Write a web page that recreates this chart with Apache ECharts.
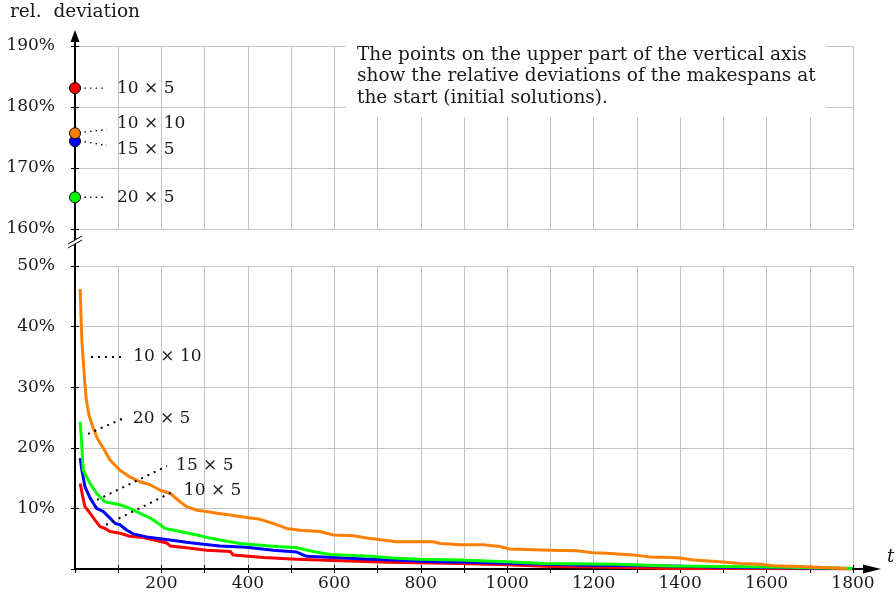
<!DOCTYPE html>
<html>
<head>
<meta charset="utf-8">
<script src="https://cdn.jsdelivr.net/npm/echarts@6/dist/echarts.min.js"></script>
<style>
  html, body { margin: 0; padding: 0; background: #fff; }
  #chart { width: 896px; height: 598px; }
</style>
</head>
<body>
<div id="chart"></div>
<script>
// Problem sizes (jobs x machines) and their colours
const instances = ['10 × 5', '15 × 5', '20 × 5', '10 × 10'];
const instanceColors = ['#ff0000', '#0000ff', '#00ff00', '#ff8000'];

// Relative deviation of the initial solutions (%), same order as instances
const initialDeviation = [183.1, 174.4, 165.2, 175.7];

// Relative deviation over time t: [t, %]
const dev10x5 = [[12,14.1],[18,11.9],[23,10.3],[35,9.2],[46,8.1],[58,7.0],[69,6.7],[81,6.2],[104,5.9],[127,5.4],[158,5.2],[181,4.8],[212,4.3],[220,3.8],[258,3.5],[305,3.1],[359,2.9],[366,2.3],[436,1.9],[513,1.6],[598,1.4],[721,1.1],[891,0.9],[1000,0.7],[1099,0.4],[1250,0.3],[1377,0.1],[1600,0.1],[1800,0.0]];
const dev15x5 = [[12,18.3],[16,16.3],[23,13.6],[35,11.7],[50,10.0],[65,9.5],[81,8.4],[93,7.5],[104,7.3],[120,6.4],[135,5.8],[166,5.3],[197,5.0],[220,4.8],[258,4.4],[297,4.1],[335,3.8],[397,3.6],[459,3.1],[513,2.8],[536,2.1],[598,1.9],[683,1.6],[760,1.4],[837,1.2],[920,1.1],[1022,0.9],[1176,0.6],[1377,0.5],[1500,0.3],[1650,0.2],[1800,0.1]];
const dev20x5 = [[12,24.3],[15,21.3],[19,16.3],[35,14.1],[50,12.5],[69,11.1],[104,10.6],[127,10.0],[150,9.2],[174,8.4],[197,7.3],[208,6.7],[243,6.2],[282,5.6],[312,5.1],[335,4.8],[382,4.2],[451,3.8],[513,3.5],[551,2.9],[590,2.4],[683,2.1],[736,1.8],[798,1.6],[891,1.5],[999,1.2],[1083,0.9],[1253,0.8],[1377,0.5],[1500,0.4],[1650,0.3],[1800,0.1]];
const dev10x10 = [[12,46.2],[14,41.5],[16,37.5],[19,34.5],[22,31.5],[26,28.0],[32,25.5],[41,23.5],[52,21.5],[65,20.0],[81,18.0],[104,16.3],[127,15.2],[150,14.4],[174,13.9],[197,13.0],[220,12.5],[243,11.1],[258,10.3],[282,9.7],[305,9.5],[328,9.2],[359,8.9],[397,8.5],[428,8.2],[459,7.5],[490,6.7],[521,6.4],[567,6.2],[598,5.6],[644,5.5],[675,5.1],[721,4.7],[744,4.5],[829,4.5],[845,4.2],[891,4.0],[945,4.0],[983,3.7],[1006,3.3],[1099,3.1],[1161,3.0],[1199,2.7],[1230,2.6],[1292,2.3],[1330,2.0],[1377,1.9],[1400,1.8],[1431,1.5],[1492,1.2],[1539,0.9],[1585,0.8],[1616,0.55],[1677,0.4],[1785,0.1]];
const curves = [dev10x5, dev15x5, dev20x5, dev10x10];

// Axis ranges and tick spacing
const tMax = 1800, tStep = 100, tLabelStep = 200;
const lowerRange = [0, 50], upperRange = [160, 190], yStep = 10;

// Leader lines from the curves / start points to their captions, in data units
const upperLeaders = [
  { name: '10 × 5',  from: [22, 183.1], to: [74, 183.1], dy: 0 },
  { name: '10 × 10', from: [22, 175.9], to: [74, 176.3], dy: -6 },
  { name: '15 × 5',  from: [22, 174.3], to: [74, 173.7], dy: 4 },
  { name: '20 × 5',  from: [22, 165.2], to: [74, 165.2], dy: 0 }
];
const lowerLeaders = [
  { name: '10 × 10', from: [37, 35.0], to: [114, 35.0] },
  { name: '20 × 5',  from: [30, 22.3], to: [113, 24.9] },
  { name: '15 × 5',  from: [51, 11.4], to: [213, 17.0] },
  { name: '10 × 5',  from: [72, 7.3],  to: [231, 12.9] }
];

const serif = 'DejaVu Serif';
const ink = '#1a1a1a';
const gridColor = '#c4c4c4';
const chart = echarts.init(document.getElementById('chart'), null, { renderer: 'canvas' });

// main: grid lines, labels and outer ticks; secondary: inner half of the crossing ticks
function xAxisFor(gridIndex, main) {
  const lower = gridIndex === 0;
  return {
    type: 'value', gridIndex, position: 'bottom', min: 0, max: tMax, interval: tStep,
    axisLine: { show: main && lower, lineStyle: { color: '#000', width: 2 } },
    axisTick: { show: lower, length: 4, inside: !main, lineStyle: { color: '#000', width: 1 } },
    axisLabel: {
      show: main && lower, interval: 0, margin: 6,
      fontFamily: serif, fontSize: 17, color: ink,
      formatter: v => (v > 0 && v % tLabelStep === 0) ? String(v) : ''
    },
    splitLine: { show: main, lineStyle: { color: gridColor, width: 1 } }
  };
}
function yAxisFor(gridIndex, range, main) {
  return {
    type: 'value', gridIndex, position: 'left', min: range[0], max: range[1], interval: yStep,
    axisLine: { show: main, lineStyle: { color: '#000', width: 2 } },
    axisTick: { show: true, length: 4, inside: !main, lineStyle: { color: '#000', width: 1 } },
    axisLabel: {
      show: main, margin: 20, fontFamily: serif, fontSize: 17, color: ink,
      formatter: v => (v === 0 ? '' : v + '%')
    },
    splitLine: { show: main, lineStyle: { color: gridColor, width: 1 } },
    name: (main && gridIndex === 1) ? 'rel.  deviation' : '',
    nameLocation: 'end', nameGap: 24,
    nameTextStyle: { fontFamily: serif, fontSize: 18.5, color: ink, align: 'center' }
  };
}

const series = [];
// start points on the upper axis segment
instances.forEach((name, i) => {
  series.push({
    type: 'scatter', name, xAxisIndex: 2, yAxisIndex: 2,
    data: [[0, initialDeviation[i]]],
    symbol: 'circle', symbolSize: 11, clip: false,
    itemStyle: { color: instanceColors[i], borderColor: '#000', borderWidth: 1, opacity: 1 },
    z: i === 3 ? 6 : 5
  });
});
// deviation curves (drawn in order, orange on top)
instances.forEach((name, i) => {
  series.push({
    type: 'line', name, xAxisIndex: 0, yAxisIndex: 0,
    data: curves[i], symbol: 'none', clip: true,
    lineStyle: { color: instanceColors[i], width: 3, join: 'round' },
    z: 2 + i * 0.1
  });
});
// leader lines with captions
upperLeaders.forEach(l => {
  series.push({
    type: 'line', name: 'u-' + l.name, xAxisIndex: 2, yAxisIndex: 2,
    data: [l.from, l.to], symbol: 'none', clip: false, silent: true,
    lineStyle: { color: '#000', width: 1.4, type: [1.4, 4.2] },
    endLabel: { show: true, formatter: l.name, distance: 10, offset: [0, l.dy],
      fontFamily: serif, fontSize: 17, color: ink },
    z: 4
  });
});
lowerLeaders.forEach(l => {
  series.push({
    type: 'line', name: 'l-' + l.name, xAxisIndex: 0, yAxisIndex: 0,
    data: [l.from, l.to], symbol: 'none', clip: false, silent: true,
    lineStyle: { color: '#000', width: 2, type: [2, 5] },
    endLabel: { show: true, formatter: l.name, distance: 9,
      fontFamily: serif, fontSize: 17, color: ink },
    z: 8
  });
});

chart.setOption({
  animation: false,
  backgroundColor: '#fff',
  grid: [
    { left: 75, right: 43, top: 266, bottom: 29 },
    { left: 75, right: 43, top: 46, height: 183 }
  ],
  xAxis: [xAxisFor(0, true), xAxisFor(0, false), xAxisFor(1, true)],
  yAxis: [yAxisFor(0, lowerRange, true), yAxisFor(0, lowerRange, false), yAxisFor(1, upperRange, true), yAxisFor(1, upperRange, false)],
  series
});

// Axis decorations: connector across the break, break marks, arrow heads, note box
const o = chart.convertToPixel({ xAxisIndex: 0, yAxisIndex: 0 }, [0, 0]);
const end = chart.convertToPixel({ xAxisIndex: 0, yAxisIndex: 0 }, [tMax, 0]);
const lowTop = chart.convertToPixel({ xAxisIndex: 0, yAxisIndex: 0 }, [0, lowerRange[1]]);
const upBot = chart.convertToPixel({ xAxisIndex: 2, yAxisIndex: 2 }, [0, upperRange[0]]);
const upTop = chart.convertToPixel({ xAxisIndex: 2, yAxisIndex: 2 }, [0, upperRange[1]]);
const ax = o[0], by = upBot[1] + 13;
const black = { stroke: '#000', lineWidth: 2 };

chart.setOption({
  graphic: [
    { type: 'line', shape: { x1: ax, y1: upBot[1], x2: ax, y2: lowTop[1] }, style: black, z: 10 },
    { type: 'line', shape: { x1: ax, y1: upTop[1] + 1, x2: ax, y2: upTop[1] - 5 }, style: black, z: 10 },
    { type: 'polygon', shape: { points: [[ax - 4.5, upTop[1] - 4], [ax, upTop[1] - 16], [ax + 4.5, upTop[1] - 4]] },
      style: { fill: '#000' }, z: 10 },
    { type: 'line', shape: { x1: end[0] - 1, y1: o[1], x2: end[0] + 11, y2: o[1] }, style: black, z: 10 },
    { type: 'polygon', shape: { points: [[end[0] + 10, o[1] - 4.5], [end[0] + 28, o[1]], [end[0] + 10, o[1] + 4.5]] },
      style: { fill: '#000' }, z: 10 },
    { type: 'polygon', shape: { points: [[ax - 7, by + 2], [ax + 7, by - 6], [ax + 7, by - 2], [ax - 7, by + 6]] },
      style: { fill: '#fff' }, z: 11 },
    { type: 'line', shape: { x1: ax - 7, y1: by + 2, x2: ax + 7, y2: by - 6 }, style: { stroke: '#000', lineWidth: 1 }, z: 12 },
    { type: 'line', shape: { x1: ax - 7, y1: by + 6, x2: ax + 7, y2: by - 2 }, style: { stroke: '#000', lineWidth: 1 }, z: 12 },
    { type: 'text', x: end[0] + 34, y: o[1] - 12,
      style: { text: 't', font: 'italic 18px "DejaVu Serif"', fill: ink, textVerticalAlign: 'middle' }, z: 10 },
    { type: 'rect', shape: { x: 346, y: 38, width: 480, height: 79 }, style: { fill: '#fff' }, z: 9 },
    { type: 'text', x: 357, y: 44,
      style: {
        text: 'The points on the upper part of the vertical axis\nshow the relative deviations of the makespans at\nthe start (initial solutions).',
        font: '18.5px "DejaVu Serif"', fill: ink, lineHeight: 21.5, textVerticalAlign: 'top'
      }, z: 10 }
  ]
});
</script>
</body>
</html>
